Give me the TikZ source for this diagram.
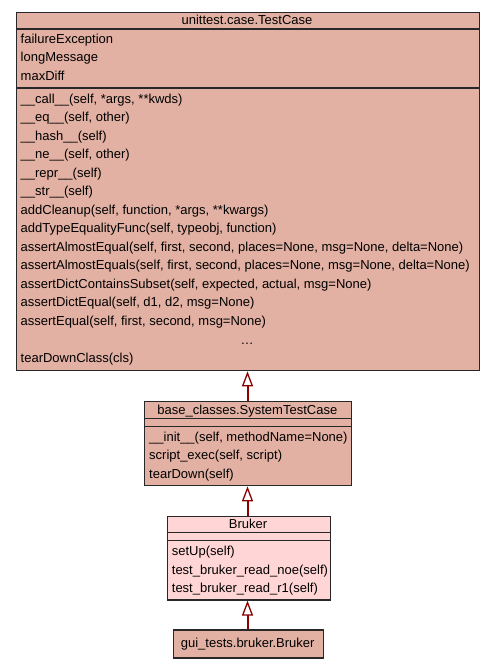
\documentclass[tikz,border=0pt]{standalone}
\usepackage{fontspec}
\setmainfont{Liberation Sans}
\usetikzlibrary{arrows.meta}
\definecolor{clsfill}{RGB}{226,177,163}
\definecolor{brukfill}{RGB}{255,213,213}
\definecolor{edgered}{RGB}{139,0,0}
\definecolor{bordc}{RGB}{40,40,40}
\begin{document}
\begin{tikzpicture}[x=1pt,y=-1pt,
  font=\fontsize{13}{15}\selectfont,
  box/.style={draw=bordc, line width=1.3pt, rectangle, inner sep=0pt, anchor=north west, fill=clsfill},
  sep/.style={draw=bordc, line width=1.3pt},
  txt/.style={anchor=base west, inner sep=0pt},
  ttl/.style={anchor=base, inner sep=0pt},
  inh/.style={draw=edgered, line width=2pt, -{Triangle[open, length=15pt, width=11pt, line width=1.3pt, fill=white]}}
]
\useasboundingbox (0,0) rectangle (493,669);
\fill[white] (0,0) rectangle (493,669);

% unittest.case.TestCase
\node[box, minimum width=463pt, minimum height=358pt] (tc) at (15.5,12) {};
\draw[sep] (15.5,29) -- (478.5,29);
\draw[sep] (15.5,88) -- (478.5,88);
\node[ttl] (tct) at (247,25) {unittest.case.TestCase};
\foreach \t [count=\i from 0] in {failureException,longMessage,maxDiff}
  \node[txt] (tca\i) at (20.5,43.5+18.5*\i) {\t};
\foreach \t [count=\i from 0] in {
  \_\_call\_\_(self{,} *args{,} **kwds),
  \_\_eq\_\_(self{,} other),
  \_\_hash\_\_(self),
  \_\_ne\_\_(self{,} other),
  \_\_repr\_\_(self),
  \_\_str\_\_(self),
  addCleanup(self{,} function{,} *args{,} **kwargs),
  addTypeEqualityFunc(self{,} typeobj{,} function),
  assertAlmostEqual(self{,} first{,} second{,} places=None{,} msg=None{,} delta=None),
  assertAlmostEquals(self{,} first{,} second{,} places=None{,} msg=None{,} delta=None),
  assertDictContainsSubset(self{,} expected{,} actual{,} msg=None),
  assertDictEqual(self{,} d1{,} d2{,} msg=None),
  assertEqual(self{,} first{,} second{,} msg=None)}
  \node[txt] (tcm\i) at (20.5,103+18.5*\i) {\t};
\node[ttl] (tcdots) at (247,344) {…};
\node[txt] (tcm14) at (20.5,362.5) {tearDownClass(cls)};

% base_classes.SystemTestCase
\node[box, minimum width=207.5pt, minimum height=84pt] (stc) at (143.5,401) {};
\draw[sep] (143.5,418.3) -- (351,418.3);
\draw[sep] (143.5,426.7) -- (351,426.7);
\node[ttl] (stct) at (247.3,414) {base\_classes.SystemTestCase};
\node[txt] (stc0) at (149,441.2) {\_\_init\_\_(self, methodName=None)};
\node[txt] (stc1) at (149,459.5) {script\_exec(self, script)};
\node[txt] (stc2) at (149,478.3) {tearDown(self)};

% Bruker
\node[box, fill=brukfill, minimum width=163pt, minimum height=83.6pt] (br) at (166.5,515.7) {};
\draw[sep] (166.5,532.7) -- (329.5,532.7);
\draw[sep] (166.5,540.7) -- (329.5,540.7);
\node[ttl] (brt) at (248,528.5) {Bruker};
\node[txt] (br0) at (171.7,555.5) {setUp(self)};
\node[txt] (br1) at (171.7,574.3) {test\_bruker\_read\_noe(self)};
\node[txt] (br2) at (171.7,592.6) {test\_bruker\_read\_r1(self)};

% gui_tests.bruker.Bruker
\node[box, minimum width=150pt, minimum height=28pt] (gb) at (172.7,629.3) {};
\node[ttl] (gbt) at (247.7,647.5) {gui\_tests.bruker.Bruker};

% inheritance
\draw[inh] (stc.north -| 247.5,0) -- (tc.south -| 247.5,0);
\draw[inh] (br.north -| 247.5,0) -- (stc.south -| 247.5,0);
\draw[inh] (gb.north -| 247.5,0) -- (br.south -| 247.5,0);
\end{tikzpicture}
\end{document}
